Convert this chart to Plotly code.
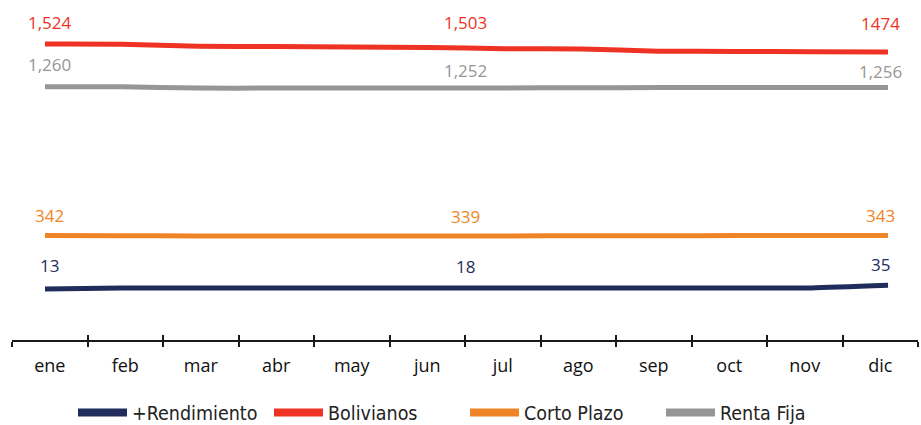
import plotly.graph_objects as go

months = ["ene", "feb", "mar", "abr", "may", "jun", "jul", "ago", "sep", "oct", "nov", "dic"]
series_names = ["+Rendimiento", "Bolivianos", "Corto Plazo", "Renta Fija"]
rendimiento = [13, 18, 18, 18, 18, 18, 18, 18, 18, 18, 19, 35]
bolivianos = [1524, 1523, 1510, 1508, 1506, 1503, 1495, 1493, 1480, 1478, 1476, 1474]
corto_plazo = [342, 341, 340, 340, 340, 339, 340, 341, 341, 342, 342, 343]
renta_fija = [1260, 1260, 1252, 1252, 1252, 1252, 1253, 1254, 1255, 1255, 1256, 1256]
colors = ["#1f2c5c", "#ee3325", "#f08527", "#969696"]
# labels shown at ene, jun, dic
label_idx = [0, 5, 11]
label_text = {
    "+Rendimiento": ["13", "18", "35"],
    "Bolivianos": ["1,524", "1,503", "1474"],
    "Corto Plazo": ["342", "339", "343"],
    "Renta Fija": ["1,260", "1,252", "1,256"],
}
label_xshift = [0, 38, 0]
label_yshift = {
    "+Rendimiento": [23, 22, 21],
    "Bolivianos": [22, 25, 29],
    "Corto Plazo": [20, 20, 20],
    "Renta Fija": [22, 18, 16],
}

values = [rendimiento, bolivianos, corto_plazo, renta_fija]

fig = go.Figure()
for name, vals, col in zip(series_names, values, colors):
    fig.add_trace(go.Scatter(
        x=months, y=vals, name=name, mode="lines",
        line=dict(color=col, width=5, shape="spline", smoothing=0.6),
        xaxis="x2", yaxis="y", hoverinfo="x+y+name",
        legendgroup=name, showlegend=False,
    ))
# legend entries (thicker swatches), linked to the data traces
for name, col in zip(series_names, colors):
    fig.add_trace(go.Scatter(
        x=[None], y=[None], name=name, mode="lines",
        line=dict(color=col, width=8),
        xaxis="x2", yaxis="y", legendgroup=name, showlegend=True,
        hoverinfo="skip",
    ))

annotations = []
for name, vals, col in zip(series_names, values, colors):
    for k, i in enumerate(label_idx):
        annotations.append(dict(
            x=months[i], y=vals[i], xref="x", yref="y",
            text=label_text[name][k], showarrow=False,
            xshift=label_xshift[k], yshift=label_yshift[name][k], yanchor="middle",
            font=dict(family="Open Sans", size=17, color=col),
        ))

fig.update_layout(
    width=921, height=425,
    margin=dict(l=12, r=3, t=10, b=85, autoexpand=False),
    paper_bgcolor="white", plot_bgcolor="white",
    showlegend=True,
    legend=dict(
        orientation="h", x=0.5, xanchor="center", y=-0.221, yanchor="middle",
        font=dict(family="DejaVu Sans Condensed", size=19.5, color="#222222"),
        itemwidth=49, entrywidth=132, entrywidthmode="pixels",
        groupclick="togglegroup",
    ),
    xaxis=dict(
        type="category", categoryorder="array", categoryarray=months,
        range=[-0.5, 11.5], showgrid=False, zeroline=False,
        showline=True, linecolor="#1a1a1a", linewidth=1.5,
        ticks="outside", ticklen=5, tickwidth=1.5, tickcolor="#1a1a1a",
        tickson="boundaries",
        tickfont=dict(family="Open Sans", size=18, color="#111111"),
        ticklabelstandoff=9,
        fixedrange=True,
    ),
    xaxis3=dict(
        type="category", categoryorder="array", categoryarray=months,
        range=[-0.5, 11.5], overlaying="x", anchor="y",
        showgrid=False, zeroline=False, showline=False,
        ticks="inside", ticklen=5, tickwidth=1.5, tickcolor="#1a1a1a",
        tickson="boundaries", showticklabels=False,
        tickvals=months,
    ),
    xaxis2=dict(
        type="category", categoryorder="array", categoryarray=months,
        range=[-0.4306, 11.391], overlaying="x", anchor="y",
        visible=False,
    ),
    yaxis=dict(
        range=[-302.3, 1733.8], visible=False, fixedrange=True,
    ),
    annotations=annotations,
)

# invisible trace to activate xaxis3
fig.add_trace(go.Scatter(x=months, y=[None] * 12, xaxis="x3", yaxis="y",
                         showlegend=False, hoverinfo="skip", mode="lines"))

fig.write_html(
    "out.html",
    config={"displayModeBar": False},
    post_script="document.body.style.margin='0';document.body.style.padding='0';",
)
